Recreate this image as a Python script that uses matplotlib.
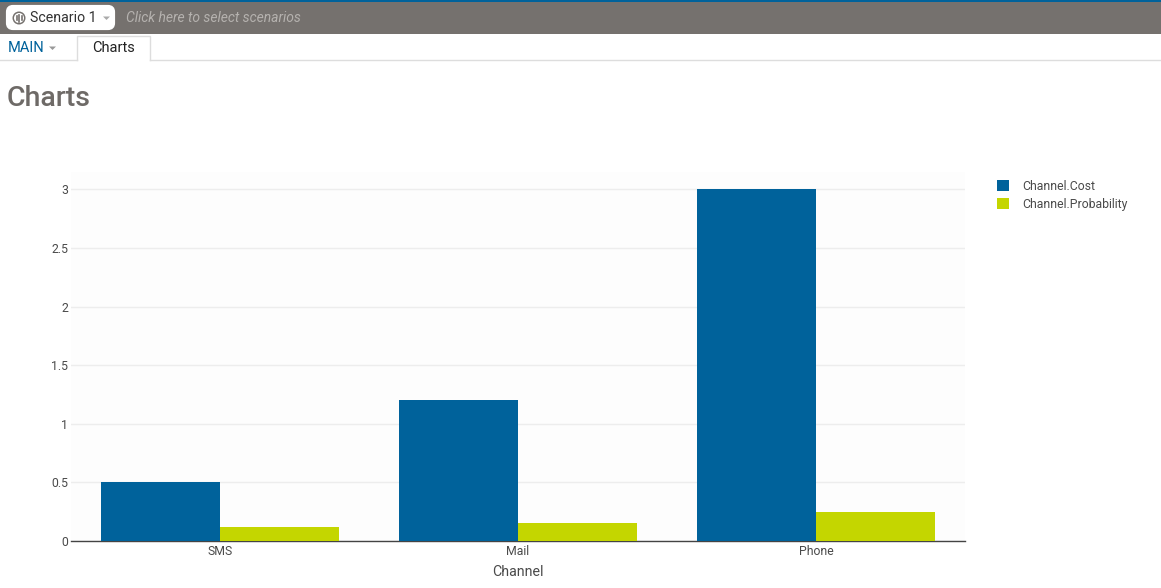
# -*- coding: utf-8 -*-
import matplotlib
matplotlib.use("Agg")
import numpy as np
import matplotlib.pyplot as plt
from matplotlib.patches import Rectangle, FancyBboxPatch, Circle, Polygon
from matplotlib.transforms import ScaledTranslation

W, H = 1161, 588

channels = ["SMS", "Mail", "Phone"]
cost = [0.5, 1.2, 3.0]
probability = [0.12, 0.15, 0.25]
y_ticks = [0, 0.5, 1, 1.5, 2, 2.5, 3]
y_tick_labels = ["0", "0.5", "1", "1.5", "2", "2.5", "3"]

BLUE = "#00629B"
LIME = "#C4D600"
TEXT = "#4A4A4A"

plt.rcParams["font.family"] = ["Roboto", "DejaVu Sans"]

fig = plt.figure(figsize=(W / 100, H / 100), dpi=100, facecolor="white")

# page chrome, drawn in pixel coordinates
ui = fig.add_axes([0, 0, 1, 1])
ui.set_xlim(0, W)
ui.set_ylim(H, 0)
ui.axis("off")
ui.add_patch(Rectangle((0, 0), W, 34, fc="#75716E", ec="none"))
ui.add_patch(Rectangle((0, 0), W, 1.5, fc="#00629B", ec="none"))
ui.add_patch(FancyBboxPatch((8, 7), 105, 21, boxstyle="round,pad=0,rounding_size=5",
                            fc="white", ec="white", lw=3))
ui.add_patch(Circle((19, 18), 6.5, fc="#75716E", ec="none"))
ui.add_patch(Circle((19, 18), 5, fc="white", ec="none"))
for dx, h in [(-2.5, 2), (0, 3.5), (2.5, 2)]:
    ui.plot([19 + dx, 19 + dx], [18 - h, 18 + h], color="#75716E", lw=1.2)
ui.text(30, 18.5, "Scenario 1", fontsize=10.2, color="#333333", va="center", ha="left")
ui.add_patch(Polygon([[103, 16.5], [110, 16.5], [106.5, 20]], fc="#AAAAAA", ec="none"))
ui.text(126, 18.5, "Click here to select scenarios", fontsize=10, style="italic",
        color="#B5B2AF", va="center", ha="left")

ui.plot([0, 77], [60, 60], color="#DDDDDD", lw=1)
ui.plot([150, W], [60, 60], color="#DDDDDD", lw=1)
ui.plot([77, 77, 150, 150], [60, 36, 36, 60], color="#DDDDDD", lw=1)
ui.text(8, 48.5, "MAIN", fontsize=10.5, color=BLUE, va="center", ha="left")
ui.add_patch(Polygon([[49, 46.5], [56, 46.5], [52.5, 50]], fc="#999999", ec="none"))
ui.text(113.5, 48.5, "Charts", fontsize=10.5, color="#222222", va="center", ha="center")
ui.text(7, 99, "Charts", fontsize=20.5, fontweight="medium", color="#6E6A67", va="center", ha="left")

# chart
left, right, top, bottom = 71, 965, 172, 541
ax = fig.add_axes([left / W, 1 - bottom / H, (right - left) / W, (bottom - top) / H])
ax.set_facecolor("#FDFDFD")
x = np.arange(len(channels))
bar_w = 0.4
ax.bar(x - bar_w / 2, cost, bar_w, color=BLUE, zorder=3, label="Channel.Cost")
ax.bar(x + bar_w / 2, probability, bar_w, color=LIME, zorder=3, label="Channel.Probability")
ax.set_xlim(-0.5, 2.5)
ax.set_ylim(0, 3.148)
ax.set_xticks(x, channels)
ax.set_yticks(y_ticks, y_tick_labels)
ax.grid(axis="y", color="#EDEDED", lw=1, zorder=0)
ax.tick_params(length=0, labelsize=8.8, labelcolor=TEXT)
ax.tick_params(axis="x", pad=3)
ax.tick_params(axis="y", pad=2)
# y labels sit a little under their gridline
nudge = ScaledTranslation(0, -1.5 / 100, fig.dpi_scale_trans)
for lab in ax.get_yticklabels():
    lab.set_verticalalignment("center")
    lab.set_transform(lab.get_transform() + nudge)
for side in ["top", "left", "right"]:
    ax.spines[side].set_visible(False)
ax.spines["bottom"].set_color("#444444")
ax.spines["bottom"].set_linewidth(1)
ax.set_xlabel("Channel", fontsize=10.2, color=TEXT, labelpad=5)

leg = fig.legend(loc="upper left", bbox_to_anchor=(997 / W, 1 - 179.5 / H), frameon=False,
                 fontsize=8.8, handlelength=1.0, handleheight=1.1, handletextpad=1.1,
                 labelspacing=0.42, borderpad=0, borderaxespad=0)
for t in leg.get_texts():
    t.set_color(TEXT)

fig.savefig("out.png", dpi=100, facecolor="white")
